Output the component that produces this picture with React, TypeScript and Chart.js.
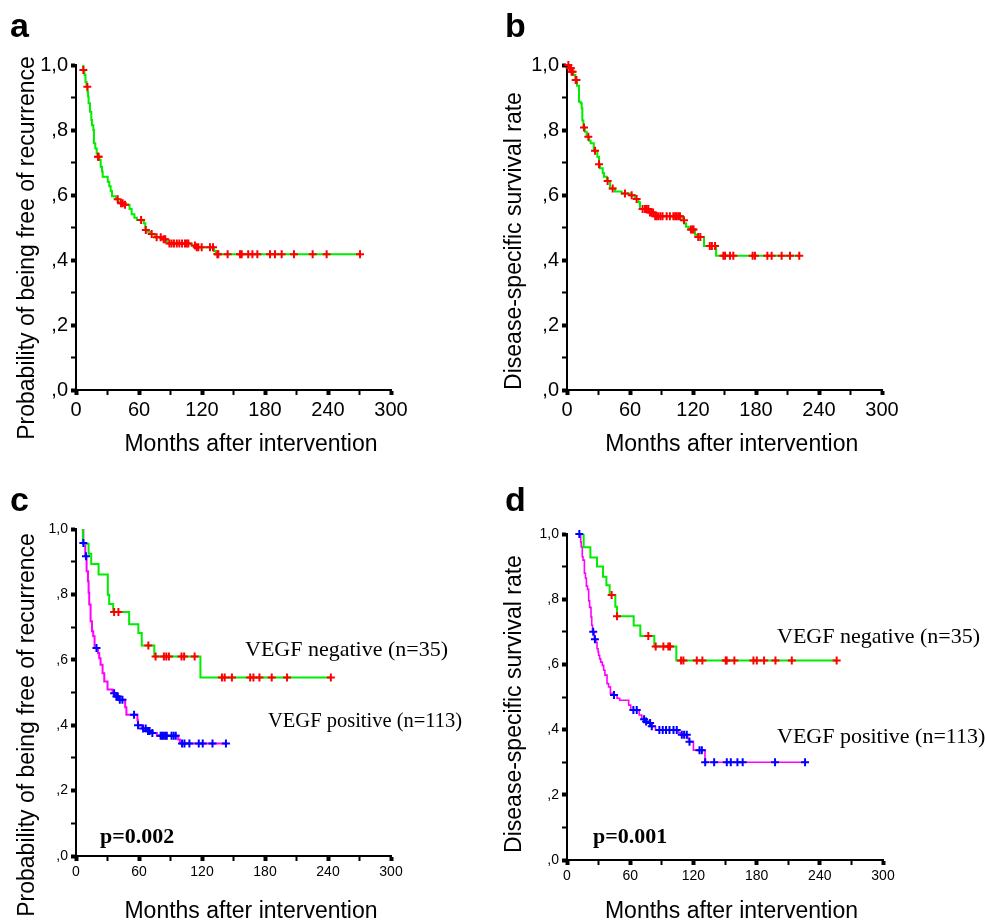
import React, { useEffect, useRef } from 'react';
import { Chart, registerables } from 'chart.js';

Chart.register(...registerables);

// ---------------- Data (months, survival probability) ----------------
// Panel a: recurrence-free
const aCurveX = [6.3, 7, 8, 9, 10, 11, 11.5, 12, 13.3, 14.6, 15.2, 16.5, 17.1, 18.4, 19.7, 20.5, 22.2, 23.5, 24.8, 25.4, 30.2, 31.7, 33, 34.3, 38, 40, 42, 46, 51, 53, 55.6, 58, 64.5, 66, 68, 70.5, 75, 83, 86, 88, 110, 114, 131.5, 133, 270.5];
const aCurveY = [1.0, 0.985, 0.97, 0.948, 0.933, 0.916, 0.903, 0.882, 0.856, 0.831, 0.815, 0.8, 0.759, 0.743, 0.728, 0.718, 0.708, 0.687, 0.672, 0.656, 0.641, 0.627, 0.612, 0.596, 0.587, 0.579, 0.575, 0.57, 0.557, 0.541, 0.53, 0.523, 0.513, 0.492, 0.487, 0.48, 0.47, 0.464, 0.457, 0.451, 0.445, 0.439, 0.428, 0.418, 0.418];
const aCensored = [7, 10.8, 20.9, 21.6, 39.7, 42.9, 44.5, 46.7, 62, 66.5, 72.1, 76.8, 80.7, 83.5, 85, 89, 91, 93.3, 96, 98.4, 101, 103.8, 105.5, 107, 113.3, 115, 116.5, 119.7, 127.6, 130.5, 134.6, 135.5, 144.4, 156.2, 157.8, 164, 168, 172.7, 184.8, 189.5, 195.9, 207.6, 225.4, 238.7, 270.5];

// Panel b: disease-specific survival
const bCurveX = [0, 2, 4, 6, 8, 9.5, 11.4, 13, 14, 14.6, 15.6, 17.1, 18.7, 21.2, 22.5, 25.5, 28.9, 30.5, 31.4, 34, 35.2, 38, 41, 45.7, 52, 60, 64.5, 68, 69.5, 78, 84, 110, 111.5, 113.3, 116, 122, 124, 130.5, 142, 221.2];
const bCurveY = [1.0, 0.99, 0.979, 0.969, 0.954, 0.936, 0.887, 0.882, 0.867, 0.829, 0.808, 0.795, 0.779, 0.767, 0.759, 0.736, 0.718, 0.695, 0.682, 0.668, 0.656, 0.643, 0.62, 0.611, 0.605, 0.599, 0.588, 0.578, 0.557, 0.546, 0.535, 0.522, 0.513, 0.502, 0.494, 0.478, 0.471, 0.443, 0.413, 0.413];
const bCensored = [1.3, 2.5, 3.8, 4.4, 5.4, 8.3, 9, 16.2, 20.3, 26.7, 30.5, 38.7, 43.5, 55.2, 61.6, 66.3, 72, 74.3, 76, 77.5, 79, 80.5, 82, 84, 85.4, 87, 89, 91, 94.9, 98, 101.3, 103, 104.4, 106, 107.6, 111.4, 118, 119.5, 120.5, 125, 127, 136, 138, 141, 148.9, 150.5, 155.2, 158.4, 176.8, 179, 190.8, 194.9, 204.4, 212.4, 221.2];

// Panel c: recurrence-free by VEGF
const cNegX = [5.7, 6.5, 12, 14.5, 21.5, 30.3, 31.6, 35.4, 50.6, 59.4, 62.6, 74.6, 118.5, 242.7];
const cNegY = [1.0, 0.955, 0.924, 0.893, 0.861, 0.799, 0.771, 0.746, 0.709, 0.682, 0.644, 0.61, 0.546, 0.546];
const cNegCensored = [36.3, 40.4, 68.9, 75.8, 83.7, 86, 88.5, 100.5, 103, 113, 139, 141.6, 148.5, 165.9, 169, 174.7, 186.4, 201, 242.7];
const cPosX = [6, 7, 8.8, 10.1, 11.4, 12, 12.6, 13.9, 15.2, 16.4, 17.7, 20.9, 22.1, 23.4, 25.3, 26.9, 30, 34.8, 38, 41, 46.8, 48, 58.5, 59, 63, 67.5, 71, 77, 97.3, 99, 142.8];
const cPosY = [1.0, 0.957, 0.917, 0.871, 0.84, 0.805, 0.769, 0.718, 0.687, 0.672, 0.636, 0.621, 0.605, 0.585, 0.559, 0.534, 0.509, 0.498, 0.488, 0.478, 0.455, 0.432, 0.415, 0.4, 0.39, 0.382, 0.376, 0.368, 0.356, 0.344, 0.344];
const cPosCensored = [7, 9.5, 19.5, 36.3, 38.5, 39.8, 41.7, 44.2, 55.3, 59.1, 63.9, 66.4, 68.6, 70.1, 72.7, 80.6, 82, 83.5, 85, 86.5, 91, 93, 95, 101, 103.3, 108, 116.9, 120.7, 130, 142.8];

// Panel d: disease-specific survival by VEGF
const dNegX = [12, 15.8, 22.2, 28.5, 34.2, 37.4, 40.5, 45.9, 47.5, 63.3, 69.6, 82.9, 103.8, 256];
const dNegY = [1.0, 0.959, 0.928, 0.9, 0.869, 0.843, 0.813, 0.777, 0.748, 0.719, 0.687, 0.655, 0.612, 0.612];
const dNegCensored = [42.4, 47.5, 77.2, 84.2, 91.5, 96.2, 97.8, 108.3, 110.5, 123.2, 128.5, 150.7, 151.6, 158.9, 177, 180.2, 187.1, 197.9, 213.4, 256];
const dPosX = [11, 13, 13.5, 14.5, 15.2, 16.5, 17.5, 18.4, 19.5, 20.6, 21.5, 22.8, 23.5, 24.2, 26, 27.5, 28.5, 29.5, 30, 31, 32, 33.5, 34.8, 36, 38, 39.5, 41.2, 43, 47.5, 50, 58.6, 60.5, 68.5, 71, 74, 76, 79, 84, 106, 108, 114.5, 116, 120, 131, 226];
const dPosY = [1.0, 0.975, 0.96, 0.93, 0.92, 0.88, 0.865, 0.84, 0.83, 0.795, 0.775, 0.745, 0.72, 0.7, 0.677, 0.668, 0.648, 0.638, 0.628, 0.617, 0.607, 0.597, 0.582, 0.567, 0.541, 0.531, 0.511, 0.506, 0.496, 0.49, 0.475, 0.46, 0.445, 0.432, 0.425, 0.42, 0.41, 0.399, 0.39, 0.384, 0.373, 0.363, 0.337, 0.3, 0.3];
const dPosCensored = [11.7, 24.9, 26.5, 44.6, 63, 66.2, 73.2, 75.1, 78.9, 80.5, 87.7, 90.9, 94, 97.3, 101.1, 104.2, 109, 111.2, 113.7, 116.3, 125.8, 128, 131.2, 139.7, 151.7, 155.5, 161.8, 166.8, 197.5, 226];

// Axis ticks
const xMin = 0;
const xMax = 300;
const xStep = 30;
const xLabelEvery = 60;
const yStep = 0.1;

// Text
const titleRecurrence = 'Probability of being free of recurrence';
const titleSurvival = 'Disease-specific survival rate';
const titleMonths = 'Months after intervention';
const labelNeg = 'VEGF negative (n=35)';
const labelPos = 'VEGF positive (n=113)';
const pValueC = 'p=0.002';
const pValueD = 'p=0.001';

// ---------------- Styling ----------------
const SANS = '"Liberation Sans", Arial, Helvetica, sans-serif';
const SERIF = '"Liberation Serif", "Times New Roman", Times, serif';
const GREEN = '#00ec00';
const RED = '#ff0000';
const MAGENTA = '#ff00ff';
const BLUE = '#0000ff';

function stepValue(xs: number[], ys: number[], t: number): number {
  let v = ys[0];
  for (let i = 0; i < xs.length; i++) {
    if (xs[i] <= t + 1e-9) v = ys[i];
    else break;
  }
  return v;
}

function curve(xs: number[], ys: number[], color: string, width: number) {
  return {
    data: xs.map((x, i) => ({ x, y: ys[i] })),
    showLine: true,
    stepped: true,
    borderColor: color,
    backgroundColor: color,
    borderWidth: width,
    pointRadius: 0,
    fill: false,
    order: 2,
  };
}

function censors(ts: number[], xs: number[], ys: number[], color: string) {
  return {
    data: ts.map((t) => ({ x: t, y: stepValue(xs, ys, t) })),
    showLine: false,
    pointStyle: 'cross',
    pointRadius: 4,
    borderColor: color,
    backgroundColor: color,
    borderWidth: 2,
    clip: false,
    order: 1,
  };
}

type TextItem = {
  text: string;
  x: number;
  y: number;
  font: string;
  align?: CanvasTextAlign;
  rotate?: boolean;
};

const textPlugin = {
  id: 'panelText',
  afterDraw(chart: any, _args: any, opts: any) {
    const ctx: CanvasRenderingContext2D = chart.ctx;
    const items: TextItem[] = (opts && opts.items) || [];
    for (const it of items) {
      ctx.save();
      ctx.fillStyle = '#000';
      ctx.font = it.font;
      ctx.textAlign = it.align || 'left';
      ctx.textBaseline = 'alphabetic';
      if (it.rotate) {
        ctx.translate(it.x, it.y);
        ctx.rotate(-Math.PI / 2);
        ctx.fillText(it.text, 0, 0);
      } else {
        ctx.fillText(it.text, it.x, it.y);
      }
      ctx.restore();
    }
  },
};

function fmtY(v: number): string {
  const t = Math.round(v * 10);
  if (t % 2 !== 0) return '';
  if (t === 10) return '1,0';
  return ',' + t;
}

function fmtX(v: number): string {
  const r = Math.round(v);
  return r % xLabelEvery === 0 ? String(r) : '';
}

function isMajorY(c: any): boolean {
  return c && c.tick ? Math.round(c.tick.value * 10) % 2 === 0 : false;
}
function isMajorX(c: any): boolean {
  return c && c.tick ? Math.round(c.tick.value) % xLabelEvery === 0 : false;
}

type PanelDef = {
  left: number;
  top: number;
  width: number;
  height: number;
  padding: { left: number; top: number; right: number; bottom: number };
  tickSize: number;
  datasets: any[];
  texts: TextItem[];
};

const Y_AXIS_W = 60;
const X_AXIS_H = 40;

function Panel({ def }: { def: PanelDef }) {
  const ref = useRef<HTMLCanvasElement | null>(null);
  useEffect(() => {
    if (!ref.current) return;
    const chart = new Chart(ref.current, {
      type: 'scatter',
      data: { datasets: def.datasets },
      options: {
        animation: false,
        responsive: false,
        maintainAspectRatio: false,
        events: [],
        layout: { padding: def.padding },
        plugins: {
          legend: { display: false },
          tooltip: { enabled: false },
          panelText: { items: def.texts },
        } as any,
        scales: {
          x: {
            type: 'linear',
            min: xMin,
            max: xMax,
            afterFit: (s: any) => {
              s.height = X_AXIS_H;
            },
            border: { display: true, color: '#000', width: 2 },
            grid: {
              drawOnChartArea: false,
              drawTicks: true,
              tickLength: 5,
              tickColor: '#000',
              tickWidth: (c: any) => (isMajorX(c) ? 4 : 2),
            },
            ticks: {
              stepSize: xStep,
              autoSkip: false,
              maxRotation: 0,
              minRotation: 0,
              color: '#000',
              padding: 3,
              font: { family: SANS, size: def.tickSize },
              callback: (v: any) => fmtX(Number(v)),
            },
          },
          y: {
            type: 'linear',
            min: 0,
            max: 1,
            afterFit: (s: any) => {
              s.width = Y_AXIS_W;
            },
            border: { display: true, color: '#000', width: 2 },
            grid: {
              drawOnChartArea: false,
              drawTicks: true,
              tickLength: 5,
              tickColor: '#000',
              tickWidth: (c: any) => (isMajorY(c) ? 4 : 2),
            },
            ticks: {
              stepSize: yStep,
              autoSkip: false,
              color: '#000',
              padding: 3,
              font: { family: SANS, size: def.tickSize },
              callback: (v: any) => fmtY(Number(v)),
            },
          },
        },
      } as any,
      plugins: [textPlugin as any],
    });
    return () => chart.destroy();
  }, [def]);
  return (
    <canvas
      ref={ref}
      width={def.width}
      height={def.height}
      style={{
        position: 'absolute',
        left: def.left,
        top: def.top,
        width: def.width,
        height: def.height,
        display: 'block',
      }}
    />
  );
}

const letterFont = `bold 34px ${SANS}`;
const titleFont = `23px ${SANS}`;

const panels: PanelDef[] = [
  {
    left: 0,
    top: 0,
    width: 490,
    height: 460,
    padding: { left: 76 - Y_AXIS_W, top: 65, right: 99, bottom: 460 - 390 - X_AXIS_H },
    tickSize: 20,
    datasets: [curve(aCurveX, aCurveY, GREEN, 2), censors(aCensored, aCurveX, aCurveY, RED)],
    texts: [
      { text: 'a', x: 10, y: 37, font: letterFont },
      { text: titleRecurrence, x: 33.5, y: 248, font: titleFont, align: 'center', rotate: true },
      { text: titleMonths, x: 251, y: 451, font: titleFont, align: 'center' },
    ],
  },
  {
    left: 490,
    top: 0,
    width: 495,
    height: 460,
    padding: { left: 77 - Y_AXIS_W, top: 65, right: 103, bottom: 460 - 390 - X_AXIS_H },
    tickSize: 20,
    datasets: [curve(bCurveX, bCurveY, GREEN, 2), censors(bCensored, bCurveX, bCurveY, RED)],
    texts: [
      { text: 'b', x: 15, y: 37, font: letterFont },
      { text: titleSurvival, x: 30.5, y: 241, font: titleFont, align: 'center', rotate: true },
      { text: titleMonths, x: 241.7, y: 451, font: titleFont, align: 'center' },
    ],
  },
  {
    left: 0,
    top: 460,
    width: 490,
    height: 460,
    padding: { left: 76 - Y_AXIS_W, top: 69, right: 99, bottom: 460 - 396 - X_AXIS_H },
    tickSize: 14,
    datasets: [
      curve(cNegX, cNegY, GREEN, 2),
      curve(cPosX, cPosY, MAGENTA, 2),
      censors(cNegCensored, cNegX, cNegY, RED),
      censors(cPosCensored, cPosX, cPosY, BLUE),
    ],
    texts: [
      { text: 'c', x: 10, y: 51, font: letterFont },
      { text: titleRecurrence, x: 33.5, y: 265, font: titleFont, align: 'center', rotate: true },
      { text: titleMonths, x: 251, y: 458, font: titleFont, align: 'center' },
      { text: labelNeg, x: 245, y: 196, font: `22px ${SERIF}` },
      { text: labelPos, x: 268, y: 267, font: `20.5px ${SERIF}` },
      { text: pValueC, x: 100, y: 383, font: `bold 22px ${SERIF}` },
    ],
  },
  {
    left: 490,
    top: 460,
    width: 495,
    height: 460,
    padding: { left: 77 - Y_AXIS_W, top: 74, right: 102, bottom: 460 - 400 - X_AXIS_H },
    tickSize: 14,
    datasets: [
      curve(dNegX, dNegY, GREEN, 2),
      curve(dPosX, dPosY, MAGENTA, 1.6),
      censors(dNegCensored, dNegX, dNegY, RED),
      censors(dPosCensored, dPosX, dPosY, BLUE),
    ],
    texts: [
      { text: 'd', x: 15, y: 51, font: letterFont },
      { text: titleSurvival, x: 30.5, y: 244, font: titleFont, align: 'center', rotate: true },
      { text: titleMonths, x: 241.5, y: 458, font: titleFont, align: 'center' },
      { text: labelNeg, x: 287, y: 183, font: `22px ${SERIF}` },
      { text: labelPos, x: 287, y: 283, font: `22px ${SERIF}` },
      { text: pValueD, x: 103, y: 383, font: `bold 22px ${SERIF}` },
    ],
  },
];

export default function App() {
  return (
    <div
      style={{
        position: 'absolute',
        left: 0,
        top: 0,
        width: 985,
        height: 920,
        background: '#fff',
        overflow: 'hidden',
      }}
    >
      {panels.map((p, i) => (
        <Panel key={i} def={p} />
      ))}
    </div>
  );
}
